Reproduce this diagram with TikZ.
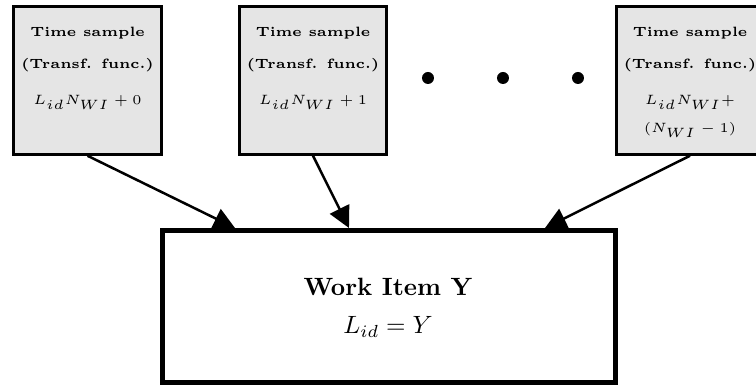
\RequirePackage{fix-cm}
\documentclass[tikz,border=0pt]{standalone}
\usetikzlibrary{arrows.meta}
\DeclareMathSizes{5.4}{5.4}{5.4}{5.4}
\newcommand{\smallsz}{\fontsize{5.4}{6.5}\selectfont}
\begin{document}
\begin{tikzpicture}[x=0.4pt,y=-0.4pt,
  sbox/.style={draw, line width=1.2pt, fill=gray!20, minimum width=59pt, minimum height=59pt, inner sep=0pt},
  wbox/.style={draw, line width=2pt, fill=white, minimum width=180.8pt, minimum height=60.8pt, inner sep=0pt},
  stitle/.style={anchor=base, inner sep=0pt, font=\smallsz\bfseries},
  smath/.style={anchor=base, inner sep=0pt, font=\smallsz},
  dotnode/.style={circle, fill=black, minimum size=4.8pt, inner sep=0pt},
  arr/.style={line width=1pt, -{Triangle[length=8.5pt,width=8.5pt]}}]
\useasboundingbox (0,0) rectangle (756,385);
% time sample boxes
\node[sbox] (t1) at (87.5,80.5) {};
\node[sbox] (t2) at (313,80.5) {};
\node[sbox] (t3) at (690,80.5) {};
% texts of box 1
\node[stitle] (t1a) at (87.5,37) {Time sample};
\node[stitle] (t1b) at (87.5,69) {(Transf. func.)};
\node[smath] (t1c) at (87.5,105) {$L_{id}N_{WI}+0$};
% texts of box 2
\node[stitle] (t2a) at (313,37) {Time sample};
\node[stitle] (t2b) at (313,69) {(Transf. func.)};
\node[smath] (t2c) at (313,105) {$L_{id}N_{WI}+1$};
% texts of box 3
\node[stitle] (t3a) at (690,37) {Time sample};
\node[stitle] (t3b) at (690,69) {(Transf. func.)};
\node[smath] (t3c) at (690,105) {$L_{id}N_{WI}+$};
\node[smath] (t3d) at (690,133) {$(N_{WI}-1)$};
% dots
\node[dotnode] (d1) at (428,78) {};
\node[dotnode] (d2) at (503,78) {};
\node[dotnode] (d3) at (578,78) {};
% work item box
\node[wbox] (w) at (389,306.5) {};
\node[anchor=base, inner sep=0pt, font=\bfseries] (wa) at (388,296) {Work Item Y};
\node[anchor=base, inner sep=0pt] (wb) at (388,334) {$L_{id}=Y$};
% connectors
\draw[arr] (t1.south) -- ([xshift=-61.6pt]w.north);
\draw[arr] (t2.south) -- ([xshift=-16pt]w.north);
\draw[arr] (t3.south) -- ([xshift=62.4pt]w.north);
\end{tikzpicture}
\end{document}
